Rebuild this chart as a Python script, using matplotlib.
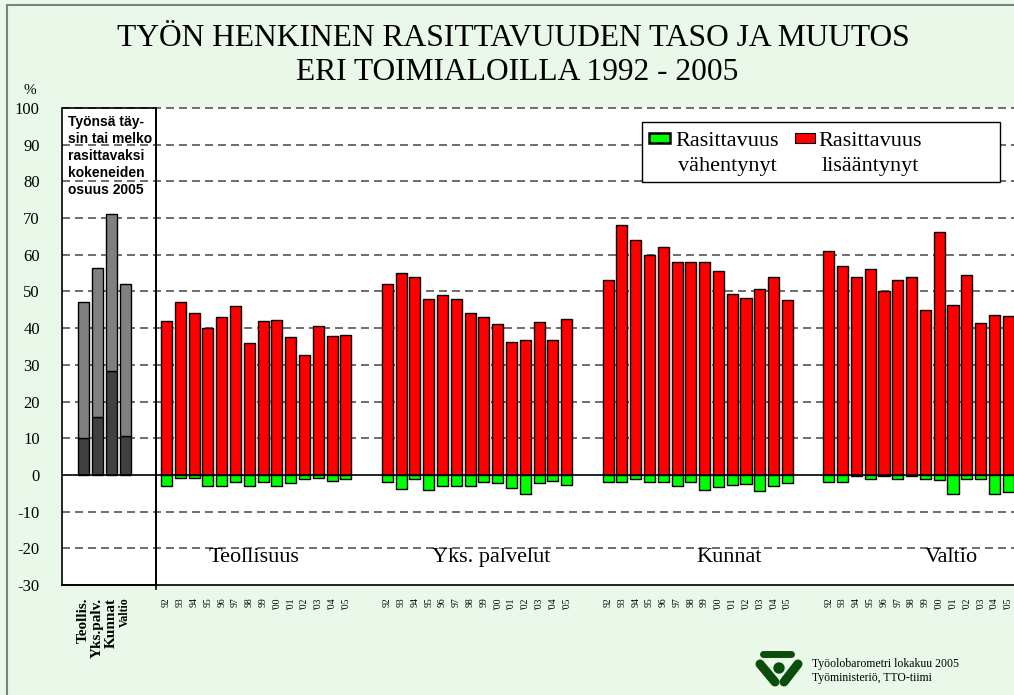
import numpy as np
import matplotlib.pyplot as plt
from matplotlib.patches import Rectangle, Circle

plt.rcParams['font.family'] = ['Liberation Serif', 'DejaVu Serif']
plt.rcParams['axes.unicode_minus'] = False

# data
years = ['92', '93', '94', '95', '96', '97', '98', '99',
         "'00", "'01", "'02", "'03", "'04", "'05"]
groups = ['Teollisuus', 'Yks. palvelut', 'Kunnat', 'Valtio']

teol_up = [42, 47, 44, 40, 43, 46, 36, 42, 42.2, 37.6, 32.7, 40.5, 37.9, 38.2]
teol_down = [-3, -0.9, -0.9, -3, -3, -1.9, -3, -1.9, -3, -2.2, -1.1, -0.8, -1.7, -1.1]
yks_up = [52, 55, 54, 48, 49, 48, 44, 43, 41, 36.3, 36.8, 41.7, 36.8, 42.4]
yks_down = [-2, -3.9, -1, -4, -3, -3, -3, -2, -2.1, -3.5, -5.1, -2.2, -1.7, -2.8]
kunnat_up = [53, 68, 64, 60, 62, 58, 58, 58, 55.7, 49.2, 48.1, 50.8, 53.9, 47.8]
kunnat_down = [-2, -2, -1, -2, -2, -3, -2, -4, -3.3, -2.7, -2.4, -4.5, -3.1, -2.2]
valtio_up = [61, 57, 54, 56, 50, 53, 54, 45, 66.1, 46.2, 54.4, 41.3, 43.6, 43.4]
valtio_down = [-2, -2, -0.3, -1, -0.3, -1, -0.3, -1, -1.4, -5.2, -1, -1.1, -5.2, -4.6]

share_labels = ['Teollis.', 'Yks.palv.', 'Kunnat', 'Valtio']
share_total = [47, 56.5, 71.2, 52]
share_very = [10, 15.7, 28.4, 10.6]

ups = [teol_up, yks_up, kunnat_up, valtio_up]
downs = [teol_down, yks_down, kunnat_down, valtio_down]

bg = '#e9f8e9'
red = '#ff0000'
green = '#00ff00'
grid_c = '#555555'

W, H = 1014, 695
fig = plt.figure(figsize=(W / 100, H / 100), dpi=100, facecolor=bg)

# slot positions: 14 years per group, 2 empty slots between groups
x_left, x_right = -7.57, 62.0
divider = -0.76
ax = fig.add_axes([62 / W, (H - 585) / H, (1022 - 62) / W, (585 - 108) / H])
ax.set_facecolor('white')
ax.set_xlim(x_left, x_right)
ax.set_ylim(-30, 100)

for v in range(-20, 101, 10):
    if v == 0:
        continue
    ax.axhline(v, color=grid_c, lw=1.2, ls=(0, (4.8, 3.0)), zorder=1, clip_on=False)
ax.axhline(0, color='black', lw=1.2, zorder=4)

year_pos = []
for g in range(4):
    pos = g * 16 + np.arange(len(years))
    year_pos.extend(pos)
    ax.bar(pos, ups[g], 0.8, color=red, edgecolor='black', lw=1, zorder=2)
    ax.bar(pos, downs[g], 0.8, color=green, edgecolor='black', lw=1, zorder=2)

left_pos = np.arange(-6, -2)
total = np.array(share_total)
very = np.array(share_very)
ax.bar(left_pos, very, 0.8, color='#404040', edgecolor='black', lw=1, zorder=2)
ax.bar(left_pos, total - very, 0.8, bottom=very, color='#808080',
       edgecolor='black', lw=1, zorder=2)

# left panel frame and divider
ax.add_patch(Rectangle((x_left, -30), divider - x_left, 130, fill=False,
                       ec='black', lw=1.2, zorder=5, clip_on=False))
ax.plot([divider, divider], [-31.2, 100], color='black', lw=1.2, zorder=5, clip_on=False)

for s in ['left', 'top', 'right']:
    ax.spines[s].set_visible(False)
ax.spines['bottom'].set_linewidth(1.2)

ax.set_yticks(range(-30, 101, 10))
ax.tick_params(axis='y', length=0, pad=16, labelsize=12)
ax.set_xticks(list(left_pos) + year_pos)
ax.set_xticklabels(share_labels + years * 4, rotation=90)
ax.tick_params(axis='x', length=0, pad=9, labelsize=7)
tl = ax.get_xticklabels()
for i in range(4):
    tl[i].set_fontweight('bold')
    tl[i].set_fontsize(11 if i < 3 else 8.5)

label_x = [6.34, 23.5, 40.8, 56.9]
for name, lx in zip(groups, label_x):
    ax.text(lx, -22.6, name, ha='center', va='center', fontsize=16, zorder=6)

# overlay in pixel coordinates for title, legend, logo
ov = fig.add_axes([0, 0, 1, 1], zorder=10)
ov.set_xlim(0, W)
ov.set_ylim(H, 0)
ov.axis('off')
ov.patch.set_alpha(0)

ov.plot([7, 7], [H, 5], color='#808080', lw=1.5)
ov.plot([7, W], [5, 5], color='#808080', lw=1.5)

ov.text(513, 39, 'TYÖN HENKINEN RASITTAVUUDEN TASO JA MUUTOS',
        ha='center', va='center', fontsize=22.7)
ov.text(517, 73, 'ERI TOIMIALOILLA 1992 - 2005', ha='center', va='center', fontsize=22.7)
ov.text(30, 91, '%', ha='center', va='center', fontsize=11)

ov.text(68, 115, 'Työnsä täy-\nsin tai melko\nrasittavaksi\nkokeneiden\nosuus 2005',
        ha='left', va='top', fontsize=10, fontweight='bold',
        family=['Liberation Sans', 'DejaVu Sans'], linespacing=1.27)

# legend
ov.add_patch(Rectangle((642, 122), 358, 60, fc='white', ec='black', lw=1))
ov.add_patch(Rectangle((649, 133), 21, 10, fc=green, ec='black', lw=1.8))
ov.add_patch(Rectangle((795, 133), 20, 10, fc=red, ec='black', lw=0.8))
ov.text(727, 154, 'Rasittavuus\nvähentynyt', ha='center', va='center',
        multialignment='center', fontsize=16, linespacing=1.45)
ov.text(870, 154, 'Rasittavuus\nlisääntynyt', ha='center', va='center',
        multialignment='center', fontsize=16, linespacing=1.45)

# logo
dg = '#0b4d0b'
ov.plot([763, 791], [654, 654], color=dg, lw=5, solid_capstyle='round')
ov.plot([760, 775], [664, 682], color=dg, lw=6.5, solid_capstyle='round')
ov.plot([798, 784], [664, 682], color=dg, lw=6.5, solid_capstyle='round')
ov.add_patch(Circle((779, 668), 5, color=dg))
ov.text(812, 664, 'Työolobarometri lokakuu 2005', ha='left', va='center', fontsize=8.5)
ov.text(812, 678, 'Työministeriö, TTO-tiimi', ha='left', va='center', fontsize=8.5)

fig.savefig('out.png', dpi=100, facecolor=bg)
